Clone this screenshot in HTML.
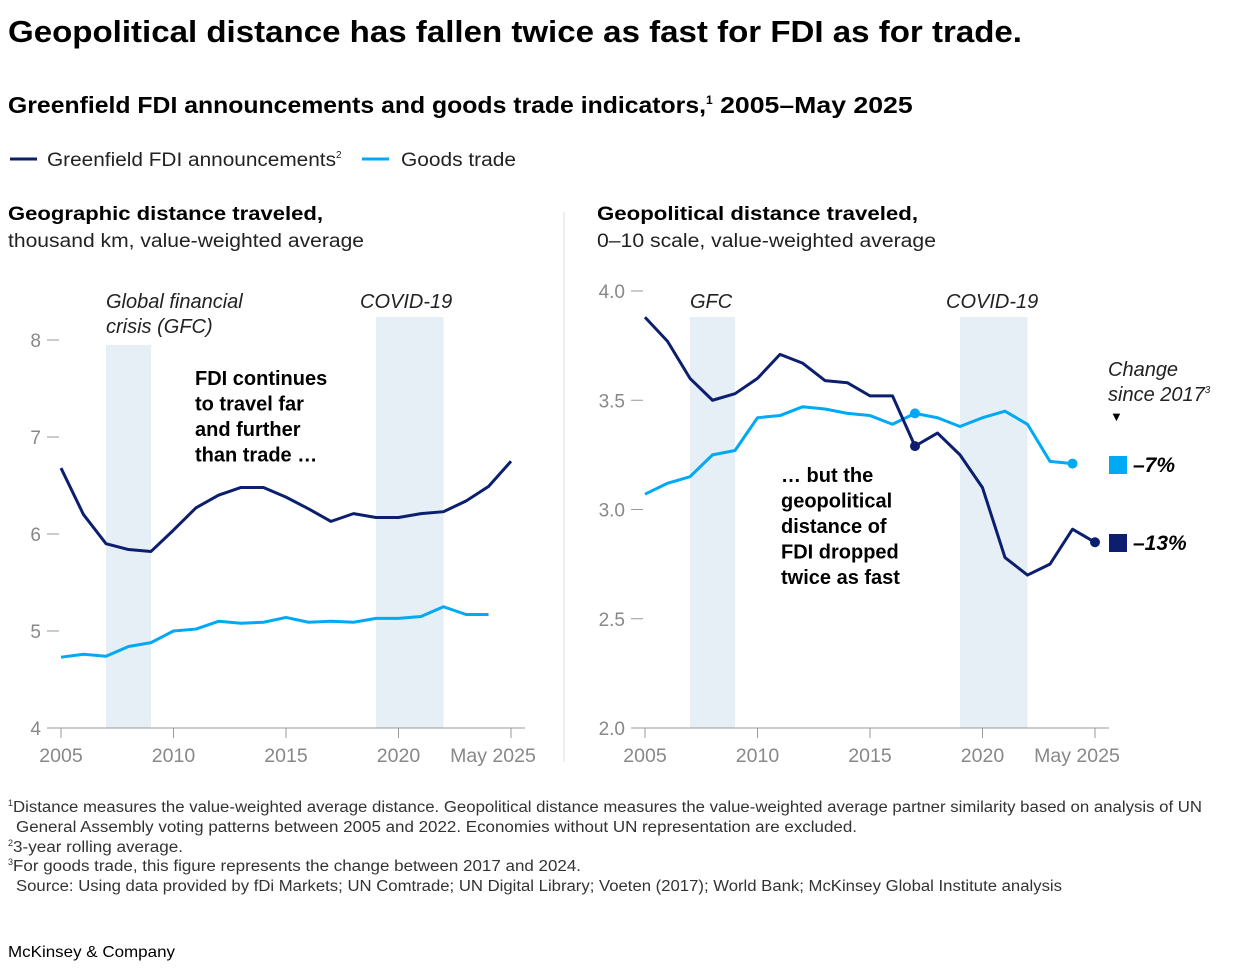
<!DOCTYPE html>
<html><head><meta charset="utf-8"><style>
body{margin:0;width:1244px;height:974px;background:#fff;font-family:"Liberation Sans",sans-serif;color:#000;overflow:hidden}
</style></head><body>
<svg width="1244" height="974" xmlns="http://www.w3.org/2000/svg" font-family="Liberation Sans, sans-serif" id="svg">
<text x="8" y="42" font-size="31" font-weight="bold" textLength="1014" lengthAdjust="spacingAndGlyphs">Geopolitical distance has fallen twice as fast for FDI as for trade.</text>
<text x="8" y="113" font-size="23.5" font-weight="bold"><tspan textLength="698" lengthAdjust="spacingAndGlyphs">Greenfield FDI announcements and goods trade indicators,</tspan><tspan font-size="12" dy="-9">1</tspan><tspan dy="9" textLength="200" lengthAdjust="spacingAndGlyphs"> 2005–May 2025</tspan></text>
<g>
<line x1="10" y1="159" x2="37" y2="159" stroke="#0b1f6e" stroke-width="3"/>
<text x="47" y="166" font-size="19" fill="#222"><tspan textLength="289" lengthAdjust="spacingAndGlyphs">Greenfield FDI announcements</tspan><tspan font-size="10" dy="-8">2</tspan></text>
<line x1="362" y1="159" x2="389" y2="159" stroke="#00a9f4" stroke-width="3"/>
<text x="401" y="166" font-size="19" fill="#222" textLength="115" lengthAdjust="spacingAndGlyphs">Goods trade</text>
</g>
<text x="8" y="220" font-size="19.5" font-weight="bold" textLength="315" lengthAdjust="spacingAndGlyphs">Geographic distance traveled,</text>
<text x="8" y="247" font-size="19" fill="#222" textLength="356" lengthAdjust="spacingAndGlyphs">thousand km, value-weighted average</text>
<text x="597" y="220" font-size="19.5" font-weight="bold" textLength="321" lengthAdjust="spacingAndGlyphs">Geopolitical distance traveled,</text>
<text x="597" y="247" font-size="19" fill="#222" textLength="339" lengthAdjust="spacingAndGlyphs">0–10 scale, value-weighted average</text>
<line x1="564" y1="212" x2="564" y2="762" stroke="#ddd" stroke-width="1"/>
<g id="left"></g><g id="right"></g>
<g font-size="15.5" fill="#333">
<text x="8" y="812"><tspan font-size="9" dy="-6">1</tspan><tspan dy="6" textLength="1189" lengthAdjust="spacingAndGlyphs">Distance measures the value-weighted average distance. Geopolitical distance measures the value-weighted average partner similarity based on analysis of UN</tspan></text>
<text x="16" y="832" textLength="841" lengthAdjust="spacingAndGlyphs">General Assembly voting patterns between 2005 and 2022. Economies without UN representation are excluded.</text>
<text x="8" y="852"><tspan font-size="9" dy="-6">2</tspan><tspan dy="6" textLength="170" lengthAdjust="spacingAndGlyphs">3-year rolling average.</tspan></text>
<text x="8" y="871"><tspan font-size="9" dy="-6">3</tspan><tspan dy="6" textLength="568" lengthAdjust="spacingAndGlyphs">For goods trade, this figure represents the change between 2017 and 2024.</tspan></text>
<text x="16" y="891" textLength="1046" lengthAdjust="spacingAndGlyphs">Source: Using data provided by fDi Markets; UN Comtrade; UN Digital Library; Voeten (2017); World Bank; McKinsey Global Institute analysis</text>
</g>
<text x="8" y="957" font-size="16" fill="#000" textLength="167" lengthAdjust="spacingAndGlyphs">McKinsey &amp; Company</text>
</svg>
<script>
const years=[2005,2006,2007,2008,2009,2010,2011,2012,2013,2014,2015,2016,2017,2018,2019,2020,2021,2022,2023,2024,2025];
const geoFdi=[6.68,6.2,5.9,5.84,5.82,6.04,6.27,6.4,6.48,6.48,6.38,6.26,6.13,6.21,6.17,6.17,6.21,6.23,6.34,6.49,6.75];
const geoTrade=[4.73,4.76,4.74,4.84,4.88,5.0,5.02,5.1,5.08,5.09,5.14,5.09,5.1,5.09,5.13,5.13,5.15,5.25,5.17,5.17];
const polFdi=[3.88,3.77,3.60,3.50,3.53,3.60,3.71,3.67,3.59,3.58,3.52,3.52,3.29,3.35,3.25,3.10,2.78,2.70,2.75,2.91,2.85];
const polTrade=[3.07,3.12,3.15,3.25,3.27,3.42,3.43,3.47,3.46,3.44,3.43,3.39,3.44,3.42,3.38,3.42,3.45,3.39,3.22,3.21];
const leftTicks=[4,5,6,7,8];
const rightTicks=[2.0,2.5,3.0,3.5,4.0];
const xTickYears=[2005,2010,2015,2020,2025];
const xTickLabels=["2005","2010","2015","2020","May 2025"];
const bands=[[2007,2009],[2019,2022]];
const NS="http://www.w3.org/2000/svg";
function mk(p,t,a){const e=document.createElementNS(NS,t);for(const k in a)e.setAttribute(k,a[k]);p.appendChild(e);return e;}
function panel(g,x0,yMin,yMax,yTop,ticks,fmt,fdi,trade,names){
 const yBot=728;
 const X=y=>x0+(y-2005)*22.5;
 const Y=v=>yBot-(v-yMin)/(yMax-yMin)*(yBot-yTop);
 const bandTops=names.bandTops;
 bands.forEach((b,i)=>{const r=mk(g,'rect',{x:X(b[0]),y:bandTops[i],width:X(b[1])-X(b[0]),height:yBot-bandTops[i],fill:'#e6eef6'});
  
  });
 ticks.forEach(t=>{const y=Y(t);
  const l=mk(g,'line',{x1:x0-14,x2:x0-2,y1:y,y2:y,stroke:'#999','stroke-width':1});
  
  
  const tx=mk(g,'text',{x:x0-20,y:y+7,'font-size':19,fill:'#888','text-anchor':'end'});tx.textContent=fmt(t);
  
  });
 const ax=mk(g,'line',{x1:x0-14,x2:X(2025)+14,y1:yBot,y2:yBot,stroke:'#999','stroke-width':1});
 
 
 xTickYears.forEach((yr,i)=>{const x=X(yr);
  const l=mk(g,'line',{x1:x,x2:x,y1:yBot,y2:yBot+10,stroke:'#999'});
  
  
  const tx=mk(g,'text',{x:i==4?x-18:x,y:yBot+34,'font-size':19.5,fill:'#888','text-anchor':'middle'});tx.textContent=xTickLabels[i];
  
  });
 const line=(d,c,n)=>{const p=mk(g,'polyline',{points:d.map((v,i)=>X(years[i])+','+Y(v)).join(' '),fill:'none',stroke:c,'stroke-width':3,'stroke-linejoin':'round'});
  
  };
 line(trade,'#00a9f4','goods-trade-line');
 line(fdi,'#0b1f6e','fdi-line');
 return {X,Y};
}
const L=document.getElementById('left'),R=document.getElementById('right');
panel(L,61,4,8,340,leftTicks,t=>String(t),geoFdi,geoTrade,{bandTops:[345,317]});
const r=panel(R,645,2,4,291,rightTicks,t=>t.toFixed(1),polFdi,polTrade,{bandTops:[317,317]});
function dot(x,y,c,n){const e=mk(R,'circle',{cx:x,cy:y,r:5,fill:c});
 
 }
dot(r.X(2017),r.Y(polTrade[12]),'#00a9f4','trade-2017-marker');
dot(r.X(2017),r.Y(polFdi[12]),'#0b1f6e','fdi-2017-marker');
dot(r.X(2024),r.Y(polTrade[19]),'#00a9f4','trade-2024-marker');
dot(r.X(2025),r.Y(polFdi[20]),'#0b1f6e','fdi-2025-marker');
function txt(p,x,y,s,attrs,n){const t=mk(p,'text',Object.assign({x:x,y:y},attrs));t.textContent=s;
 
 return t;}
const it={'font-size':20,'font-style':'italic',fill:'#222'};
txt(L,106,308,'Global financial',it,'gfc-label');
txt(L,106,333,'crisis (GFC)',it,'gfc-label');
txt(L,360,308,'COVID-19',it,'covid-label');
txt(R,690,308,'GFC',it,'gfc-label');
txt(R,946,308,'COVID-19',it,'covid-label');
const bd={'font-size':20,'font-weight':'bold',fill:'#000'};
['FDI continues','to travel far','and further','than trade …'].forEach((s,i)=>txt(L,195,385+i*25.5,s,bd,'annotation-left'));
['… but the','geopolitical','distance of','FDI dropped','twice as fast'].forEach((s,i)=>txt(R,781,482+i*25.5,s,bd,'annotation-right'));
txt(R,1108,376,'Change',it,'change-label');
const cs=txt(R,1108,401,'since 2017',it,'change-label');
const sup=mk(cs,'tspan',{'font-size':10,dy:-8});sup.textContent='3';
txt(R,1110,421,'▼',{'font-size':13,fill:'#000'},'change-arrow');
const s1=mk(R,'rect',{x:1109,y:456,width:18,height:18,fill:'#00a9f4'});


const s2=mk(R,'rect',{x:1109,y:534,width:18,height:18,fill:'#0b1f6e'});


txt(R,1133,472,'–7%',{'font-size':21,'font-weight':'bold','font-style':'italic'},'trade-change-value');
txt(R,1133,550,'–13%',{'font-size':21,'font-weight':'bold','font-style':'italic'},'fdi-change-value');
</script>
</body></html>
